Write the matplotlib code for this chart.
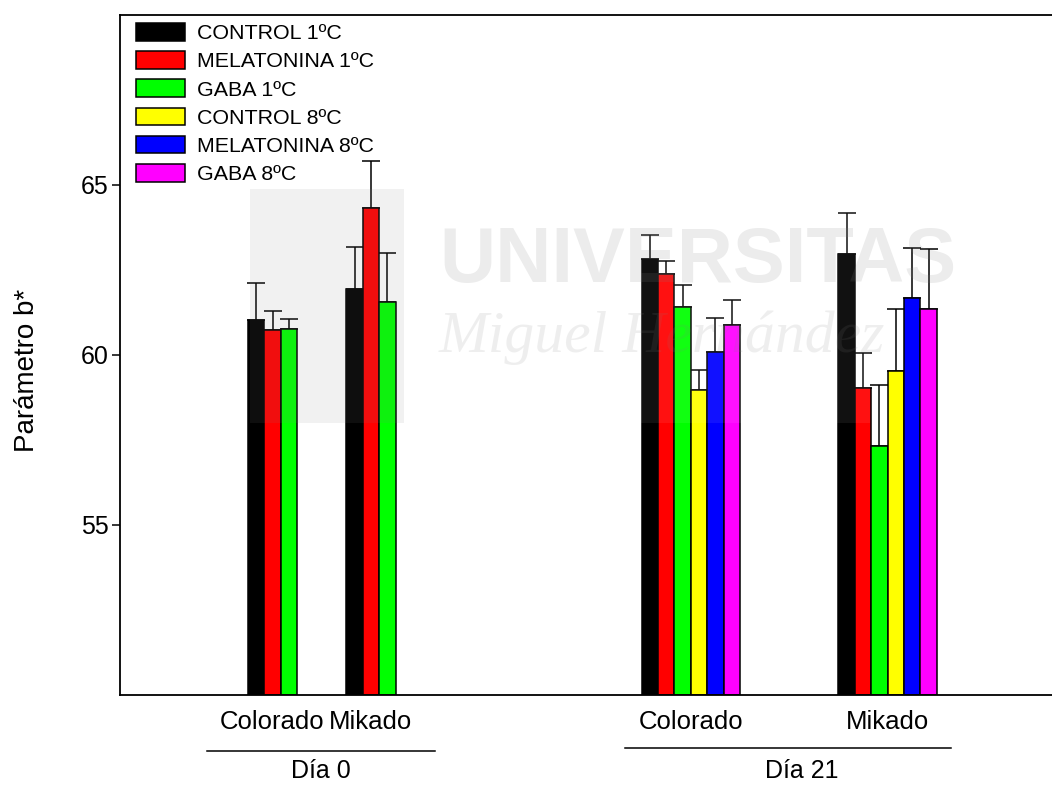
import numpy as np
import matplotlib
matplotlib.use("Agg")
import matplotlib.pyplot as plt
from matplotlib.patches import Rectangle
from matplotlib.lines import Line2D

plt.rcParams['font.family'] = ['Liberation Sans', 'DejaVu Sans']

# groups along the x axis: (day, cultivar)
cultivars = ["Colorado", "Mikado", "Colorado", "Mikado"]
days = ["Día 0", "Día 21"]
day_of_group = [0, 0, 1, 1]

series = ["CONTROL 1ºC", "MELATONINA 1ºC", "GABA 1ºC",
          "CONTROL 8ºC", "MELATONINA 8ºC", "GABA 8ºC"]
colors = ["#000000", "#ff0000", "#00ff00", "#ffff00", "#0000ff", "#ff00ff"]

# mean values per series, one entry per group (nan = not measured)
nan = np.nan
means = [
    [61.03, 61.94, 62.82, 62.98],
    [60.74, 64.31, 62.38, 59.04],
    [60.76, 61.56, 61.41, 57.33],
    [nan, nan, 58.96, 59.54],
    [nan, nan, 60.08, 61.69],
    [nan, nan, 60.88, 61.36],
]
errors = [
    [1.08, 1.25, 0.71, 1.21],
    [0.55, 1.39, 0.39, 1.01],
    [0.31, 1.45, 0.64, 1.80],
    [nan, nan, 0.60, 1.80],
    [nan, nan, 1.02, 1.45],
    [nan, nan, 0.74, 1.75],
]

# layout in bar-width units
group_start = np.array([0, 6, 24, 36]) + 7.8
bar_w = 1.0

fig = plt.figure(figsize=(10.52, 7.85), dpi=100)
ax = fig.add_axes([120 / 1052, 1 - 695 / 785, 1 - 120 / 1052, 680 / 785])

for i, (name, col) in enumerate(zip(series, colors)):
    m = np.array(means[i])
    e = np.array(errors[i])
    x = group_start + i * bar_w + bar_w / 2
    ok = ~np.isnan(m)
    ax.bar(x[ok], m[ok] - 50, bottom=50, width=bar_w, color=col,
           edgecolor="black", linewidth=1.1, label=name, zorder=2)
    ax.errorbar(x[ok], m[ok], yerr=[np.zeros(ok.sum()), e[ok]], fmt="none",
                ecolor="black", elinewidth=1.1, capsize=6.8, capthick=1.1,
                zorder=1)

ax.set_xlim(0, 932 / 16.4)
ax.set_ylim(50, 70)
ax.set_yticks([55, 60, 65])
ax.tick_params(axis="y", labelsize=18, length=6, width=1.1, direction="out", pad=2)
ax.set_xticks([])
ax.spines["right"].set_visible(False)
for s in ("left", "bottom", "top"):
    ax.spines[s].set_linewidth(1.3)

ax.set_ylabel("Parámetro b*", fontsize=20)
ax.yaxis.set_label_coords(-0.086, 0.478)

# cultivar labels under each group, day labels under a rule
trans = ax.get_xaxis_transform()
n_bars = [(~np.isnan(np.array(means)[:, g])).sum() for g in range(4)]
centers = group_start + np.array(n_bars) * bar_w / 2
for c, lab in zip(centers, cultivars):
    ax.text(c, -0.04, lab, transform=trans, ha="center", va="center",
            fontsize=18.5, clip_on=False)
for d, lab in enumerate(days):
    cs = centers[[g for g in range(4) if day_of_group[g] == d]]
    x0, x1 = cs.min() - 4.0, cs.max() + 3.9
    yl = -0.082 if d == 0 else -0.078
    ax.add_line(Line2D([x0, x1], [yl, yl], transform=trans, color="black",
                       linewidth=1.1, clip_on=False))
    ax.text((x0 + x1) / 2 + (0 if d == 0 else 0.8), -0.112, lab,
            transform=trans, ha="center", va="center", fontsize=18,
            clip_on=False)

ax.legend(loc="upper left", bbox_to_anchor=(16 / 932, 1 - 8 / 680),
          frameon=False, fontsize=15.4, handlelength=2.3, handleheight=0.9,
          labelspacing=0.37, handletextpad=0.55, borderpad=0, borderaxespad=0)

# watermark
fig.patches.append(Rectangle((250 / 1052, 1 - 423 / 785), 154 / 1052, 234 / 785,
                             transform=fig.transFigure, facecolor="0.5",
                             alpha=0.11, edgecolor="none", zorder=5))
fig.patches.append(Rectangle((404 / 1052, 1 - 423 / 785), 466 / 1052, 234 / 785,
                             transform=fig.transFigure, facecolor="white",
                             alpha=0.07, edgecolor="none", zorder=5))
fig.text(439 / 1052, 1 - 282 / 785, "UNIVERSITAS", fontsize=56,
         fontweight="bold", family=["Liberation Sans Narrow", "Liberation Sans"],
         color="0.5", alpha=0.15, ha="left", va="baseline", zorder=6)
fig.text(439 / 1052, 1 - 352 / 785, "Miguel Hernández", fontsize=43,
         style="italic", family=["Liberation Serif", "DejaVu Serif"],
         color="0.5", alpha=0.13, ha="left", va="baseline", zorder=6)

fig.savefig("out.png", dpi=100)
